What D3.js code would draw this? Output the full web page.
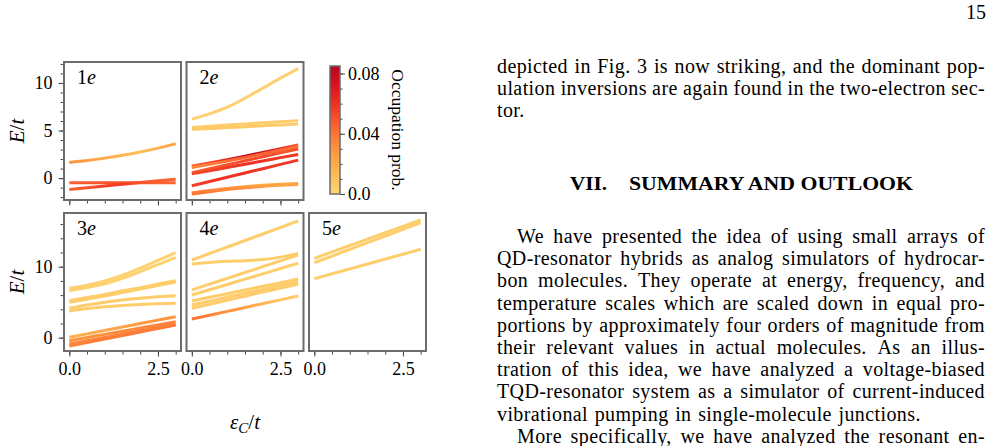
<!DOCTYPE html>
<html>
<head>
<meta charset="utf-8">
<script src="https://cdn.jsdelivr.net/npm/d3@7"></script>
<style>
body { margin: 0; background: #fff; }
svg text { font-family: "Liberation Serif", "DejaVu Serif", serif; fill: #000; }
</style>
</head>
<body>
<svg id="page" width="994" height="446"></svg>
<script>
// detuning grid eps_C/t where the levels are read
var xGrid = [0, 0.5, 1, 1.5, 2, 2.5, 3];

// 1e sector : energies E/t and occupation prob.
var levels1e = [
	[1.65, 1.85, 2.1, 2.4, 2.75, 3.15, 3.6],
	[-0.5, -0.5, -0.5, -0.5, -0.5, -0.5, -0.5],
	[-1.2, -1.02, -0.83, -0.65, -0.47, -0.28, -0.12]
];
var occ1e = [
	[0.03, 0.025, 0.02, 0.015, 0.012, 0.018, 0.025],
	[0.045, 0.048, 0.05, 0.05, 0.048, 0.045, 0.045],
	[0.045, 0.05, 0.056, 0.056, 0.05, 0.046, 0.045]
];

// 2e sector
var levels2e = [
	[6.2, 6.75, 7.45, 8.4, 9.45, 10.5, 11.5],
	[5.33, 5.45, 5.57, 5.69, 5.81, 5.93, 6.04],
	[5.12, 5.21, 5.31, 5.4, 5.5, 5.59, 5.68],
	[1.26, 1.58, 1.93, 2.3, 2.7, 3.1, 3.47],
	[1.12, 1.45, 1.8, 2.17, 2.55, 2.93, 3.3],
	[0.56, 0.98, 1.4, 1.82, 2.24, 2.65, 3.05],
	[0.45, 0.78, 1.12, 1.46, 1.8, 2.15, 2.49],
	[-0.81, -0.36, 0.09, 0.54, 0.99, 1.44, 1.89],
	[-1.54, -1.3, -1.08, -0.9, -0.76, -0.65, -0.56],
	[-1.68, -1.43, -1.2, -1.02, -0.87, -0.76, -0.67]
];
var occ2e = [
	[0.003, 0.003, 0.003, 0.003, 0.003, 0.003, 0.003],
	[0.005, 0.005, 0.005, 0.005, 0.005, 0.005, 0.005],
	[0.006, 0.006, 0.006, 0.006, 0.006, 0.006, 0.006],
	[0.045, 0.055, 0.07, 0.082, 0.078, 0.06, 0.05],
	[0.033, 0.038, 0.042, 0.045, 0.045, 0.043, 0.04],
	[0.045, 0.048, 0.05, 0.052, 0.052, 0.05, 0.05],
	[0.052, 0.055, 0.058, 0.06, 0.06, 0.058, 0.058],
	[0.055, 0.058, 0.06, 0.06, 0.058, 0.058, 0.058],
	[0.035, 0.032, 0.028, 0.024, 0.02, 0.018, 0.018],
	[0.04, 0.038, 0.034, 0.03, 0.026, 0.024, 0.024]
];

// 3e sector
var levels3e = [
	[6.96, 7.4, 8.0, 8.8, 9.8, 10.9, 11.97],
	[6.62, 7.05, 7.6, 8.35, 9.3, 10.3, 11.32],
	[5.21, 5.65, 6.1, 6.6, 7.05, 7.55, 8.03],
	[4.98, 5.43, 5.88, 6.36, 6.84, 7.34, 7.85],
	[4.14, 4.6, 4.98, 5.3, 5.56, 5.76, 5.92],
	[3.76, 4.1, 4.36, 4.55, 4.69, 4.79, 4.84],
	[0.06, 0.54, 1.03, 1.51, 2.0, 2.48, 2.96],
	[-0.42, 0.03, 0.47, 0.92, 1.36, 1.81, 2.25],
	[-0.89, -0.42, 0.05, 0.52, 0.99, 1.46, 1.93],
	[-1.17, -0.68, -0.19, 0.31, 0.8, 1.3, 1.79]
];
var occ3e = [
	[0.003, 0.003, 0.003, 0.003, 0.003, 0.003, 0.003],
	[0.003, 0.003, 0.003, 0.003, 0.003, 0.003, 0.003],
	[0.004, 0.004, 0.004, 0.004, 0.004, 0.004, 0.004],
	[0.004, 0.004, 0.004, 0.004, 0.004, 0.004, 0.004],
	[0.005, 0.005, 0.005, 0.005, 0.005, 0.005, 0.005],
	[0.005, 0.005, 0.005, 0.005, 0.005, 0.005, 0.005],
	[0.018, 0.02, 0.022, 0.024, 0.026, 0.028, 0.03],
	[0.03, 0.031, 0.032, 0.033, 0.034, 0.035, 0.035],
	[0.034, 0.035, 0.036, 0.036, 0.036, 0.036, 0.036],
	[0.036, 0.037, 0.038, 0.038, 0.038, 0.038, 0.038]
];

// 4e sector
var levels4e = [
	[10.94, 11.86, 12.77, 13.69, 14.6, 15.52, 16.44],
	[10.38, 10.6, 10.75, 10.85, 11.0, 11.35, 11.88],
	[6.72, 7.54, 8.36, 9.18, 10.0, 10.83, 11.65],
	[6.01, 6.76, 7.5, 8.25, 8.99, 9.74, 10.48],
	[5.17, 5.69, 6.2, 6.72, 7.24, 7.75, 8.27],
	[4.6, 5.15, 5.7, 6.25, 6.79, 7.34, 7.89],
	[4.14, 4.71, 5.28, 5.85, 6.42, 6.99, 7.56],
	[2.63, 3.17, 3.71, 4.25, 4.79, 5.33, 5.87]
];
var occ4e = [
	[0.004, 0.004, 0.004, 0.004, 0.004, 0.004, 0.004],
	[0.004, 0.004, 0.004, 0.004, 0.004, 0.004, 0.004],
	[0.004, 0.004, 0.004, 0.004, 0.004, 0.004, 0.004],
	[0.004, 0.004, 0.004, 0.004, 0.004, 0.004, 0.004],
	[0.005, 0.005, 0.005, 0.005, 0.005, 0.005, 0.005],
	[0.005, 0.005, 0.005, 0.005, 0.005, 0.005, 0.005],
	[0.005, 0.005, 0.005, 0.005, 0.005, 0.005, 0.005],
	[0.04, 0.036, 0.03, 0.024, 0.016, 0.008, 0.006]
];

// 5e sector
var levels5e = [
	[11.18, 12.08, 12.98, 13.88, 14.78, 15.68, 16.58],
	[10.56, 11.5, 12.44, 13.38, 14.32, 15.26, 16.2],
	[8.31, 9.0, 9.69, 10.38, 11.07, 11.76, 12.45]
];
var occ5e = [
	[0.004, 0.004, 0.004, 0.004, 0.004, 0.004, 0.004],
	[0.004, 0.004, 0.004, 0.004, 0.004, 0.004, 0.004],
	[0.004, 0.004, 0.004, 0.004, 0.004, 0.004, 0.004]
];

var yTicksTop = [0, 5, 10];
var yTicksBottom = [0, 10];
var xTickValues = [0, 2.5];
var cbarTicks = [0, 0.04, 0.08];
var occMax = 0.085;

// page text on the right column
var pageNumber = "15";
var para1 = ["depicted in Fig. 3 is now striking, and the dominant pop-",
	"ulation inversions are again found in the two-electron sec-",
	"tor."];
var headingNum = "VII.";
var headingTitle = "SUMMARY AND OUTLOOK";
var para2 = ["We have presented the idea of using small arrays of",
	"QD-resonator hybrids as analog simulators of hydrocar-",
	"bon molecules.  They operate at energy, frequency, and",
	"temperature scales which are scaled down in equal pro-",
	"portions by approximately four orders of magnitude from",
	"their relevant values in actual molecules.  As an illus-",
	"tration of this idea, we have analyzed a voltage-biased",
	"TQD-resonator system as a simulator of current-induced",
	"vibrational pumping in single-molecule junctions."];
var para3 = ["More specifically, we have analyzed the resonant en-"];

var svg = d3.select("#page");
var defs = svg.append("defs");

function occColor(p) {
	return d3.interpolateYlOrRd(0.25 + 0.63 * Math.min(p, occMax) / occMax);
}

var colLeft = [64, 186.5, 309];
var rowTop = [62, 213];
var W = 117, H = 138;
var yDomains = [[-2.3, 12.2], [-1.87, 17.56]];

var panels = [
	{n: "1", col: 0, row: 0, E: levels1e, occ: occ1e},
	{n: "2", col: 1, row: 0, E: levels2e, occ: occ2e},
	{n: "3", col: 0, row: 1, E: levels3e, occ: occ3e},
	{n: "4", col: 1, row: 1, E: levels4e, occ: occ4e},
	{n: "5", col: 2, row: 1, E: levels5e, occ: occ5e}
];

var spineColor = "#6c6c6c";

function styleAxis(g, fs) {
	g.select(".domain").remove();
	g.selectAll(".tick line").attr("stroke", "#444").attr("stroke-width", 1);
	g.selectAll(".tick text").attr("font-size", fs).attr("font-family", "Liberation Serif");
}

panels.forEach(function (p, pi) {
	var left = colLeft[p.col], top = rowTop[p.row];
	var x = d3.scaleLinear().domain([-0.15, 3.15]).range([left, left + W]);
	var y = d3.scaleLinear().domain(yDomains[p.row]).range([top + H, top]);
	var g = svg.append("g");

	var line = d3.line()
		.x(function (d, i) { return x(xGrid[i]); })
		.y(function (d) { return y(d); })
		.curve(d3.curveMonotoneX);

	p.E.forEach(function (lev, li) {
		var gid = "grad" + pi + "_" + li;
		var grad = defs.append("linearGradient")
			.attr("id", gid)
			.attr("gradientUnits", "userSpaceOnUse")
			.attr("x1", x(xGrid[0])).attr("x2", x(xGrid[xGrid.length - 1]))
			.attr("y1", 0).attr("y2", 0);
		p.occ[li].forEach(function (o, k) {
			grad.append("stop")
				.attr("offset", k / (xGrid.length - 1))
				.attr("stop-color", occColor(o));
		});
		g.append("path")
			.datum(lev)
			.attr("d", line)
			.attr("fill", "none")
			.attr("stroke", "url(#" + gid + ")")
			.attr("stroke-width", 3);
	});

	// x ticks, minor then major
	var xMinor = g.append("g").attr("transform", "translate(0," + (top + H + 1) + ")")
		.call(d3.axisBottom(x).tickValues(d3.range(0, 3.01, 0.5)).tickSize(2.5).tickFormat(""));
	styleAxis(xMinor, 18);
	var xMajor = g.append("g").attr("transform", "translate(0," + (top + H + 1) + ")")
		.call(d3.axisBottom(x).tickValues(xTickValues).tickSize(4.5).tickPadding(6)
			.tickFormat(p.row === 1 ? d3.format(".1f") : function () { return ""; }));
	styleAxis(xMajor, 18);

	if (p.col === 0) {
		var yMinor = g.append("g").attr("transform", "translate(" + (left - 1) + ",0)")
			.call(d3.axisLeft(y).tickValues(p.row === 0 ? d3.range(-2, 13, 1) : d3.range(0, 18, 2))
				.tickSize(2.5).tickFormat(""));
		styleAxis(yMinor, 18);
		var yMajor = g.append("g").attr("transform", "translate(" + (left - 1) + ",0)")
			.call(d3.axisLeft(y).tickValues(p.row === 0 ? yTicksTop : yTicksBottom)
				.tickSize(4.5).tickPadding(6).tickFormat(d3.format("d")));
		styleAxis(yMajor, 18);

		var yl = g.append("text")
			.attr("transform", "translate(24," + (top + H / 2) + ") rotate(-90)")
			.attr("text-anchor", "middle")
			.attr("font-size", 21);
		yl.append("tspan").attr("font-style", "italic").text("E");
		yl.append("tspan").text("/");
		yl.append("tspan").attr("font-style", "italic").text("t");
	}

	g.append("rect")
		.attr("x", left).attr("y", top)
		.attr("width", W).attr("height", H)
		.attr("fill", "none")
		.attr("stroke", spineColor)
		.attr("stroke-width", 2);

	var lab = g.append("text")
		.attr("x", left + 13).attr("y", top + 22)
		.attr("font-size", 20);
	lab.append("tspan").text(p.n);
	lab.append("tspan").attr("font-style", "italic").text("e");
});

// x label
var xl = svg.append("text")
	.attr("x", (colLeft[0] + colLeft[2] + W) / 2).attr("y", 429)
	.attr("text-anchor", "middle")
	.attr("font-size", 21);
xl.append("tspan").attr("font-style", "italic").text("ε");
xl.append("tspan").attr("font-style", "italic").attr("font-size", 15).attr("dy", 4).text("C");
xl.append("tspan").attr("dy", -4).text("/");
xl.append("tspan").attr("font-style", "italic").text("t");

// colour bar
var cbX = 330, cbW = 10, cbTop = 66, cbBottom = 194;
var cy = d3.scaleLinear().domain([0, occMax]).range([cbBottom, cbTop]);
var cgrad = defs.append("linearGradient")
	.attr("id", "cbar")
	.attr("x1", 0).attr("x2", 0).attr("y1", 1).attr("y2", 0);
d3.range(0, 21).forEach(function (k) {
	cgrad.append("stop").attr("offset", k / 20).attr("stop-color", occColor(occMax * k / 20));
});
svg.append("rect")
	.attr("x", cbX).attr("y", cbTop)
	.attr("width", cbW).attr("height", cbBottom - cbTop)
	.attr("fill", "url(#cbar)");
var cMinor = svg.append("g").attr("transform", "translate(" + (cbX + cbW) + ",0)")
	.call(d3.axisRight(cy).tickValues(d3.range(0, 0.081, 0.01)).tickSize(2.5).tickFormat(""));
styleAxis(cMinor, 18);
var cMajor = svg.append("g").attr("transform", "translate(" + (cbX + cbW) + ",0)")
	.call(d3.axisRight(cy).tickValues(cbarTicks).tickSize(5).tickPadding(3)
		.tickFormat(function (d) { return d === 0 ? "0.0" : d3.format(".2f")(d); }));
styleAxis(cMajor, 18);
svg.append("rect")
	.attr("x", cbX).attr("y", cbTop)
	.attr("width", cbW).attr("height", cbBottom - cbTop)
	.attr("fill", "none")
	.attr("stroke", spineColor)
	.attr("stroke-width", 1.5);
svg.append("text")
	.attr("transform", "translate(392," + ((cbTop + cbBottom) / 2) + ") rotate(90)")
	.attr("text-anchor", "middle")
	.attr("font-size", 17.5)
	.text("Occupation prob.");

// ---- right column text ----
var colX0 = 497, colX1 = 985, lineH = 22.2, spaceW = 6.6;
var txt = svg.append("g");

function setLine(str, x0, y, justify) {
	var words = str.split(/ +/);
	var nodes = words.map(function (w) {
		return txt.append("text").attr("y", y).attr("font-size", 20)
			.attr("letter-spacing", "0.4px").text(w);
	});
	var widths = nodes.map(function (n) { return n.node().getComputedTextLength(); });
	var gap = justify ? (colX1 - x0 - d3.sum(widths)) / (words.length - 1) : spaceW;
	var xx = x0;
	nodes.forEach(function (n, i) {
		n.attr("x", xx);
		xx += widths[i] + gap;
	});
}

function setPara(lines, y0, indent) {
	lines.forEach(function (s, i) {
		setLine(s, i === 0 ? colX0 + indent : colX0, y0 + i * lineH, i < lines.length - 1);
	});
}

txt.append("text").attr("x", 986).attr("y", 19).attr("text-anchor", "end")
	.attr("font-size", 20).text(pageNumber);
setPara(para1, 73, 0);
txt.append("text").attr("x", 570).attr("y", 190)
	.attr("font-size", 18).attr("font-weight", "bold")
	.attr("textLength", 37).attr("lengthAdjust", "spacingAndGlyphs")
	.text(headingNum);
txt.append("text").attr("x", 629).attr("y", 190)
	.attr("font-size", 18).attr("font-weight", "bold")
	.attr("textLength", 284).attr("lengthAdjust", "spacingAndGlyphs")
	.text(headingTitle);
setPara(para2, 243, 20);
setLine(para3[0], colX0 + 20, 243 + 9 * lineH, true);
</script>
</body>
</html>
